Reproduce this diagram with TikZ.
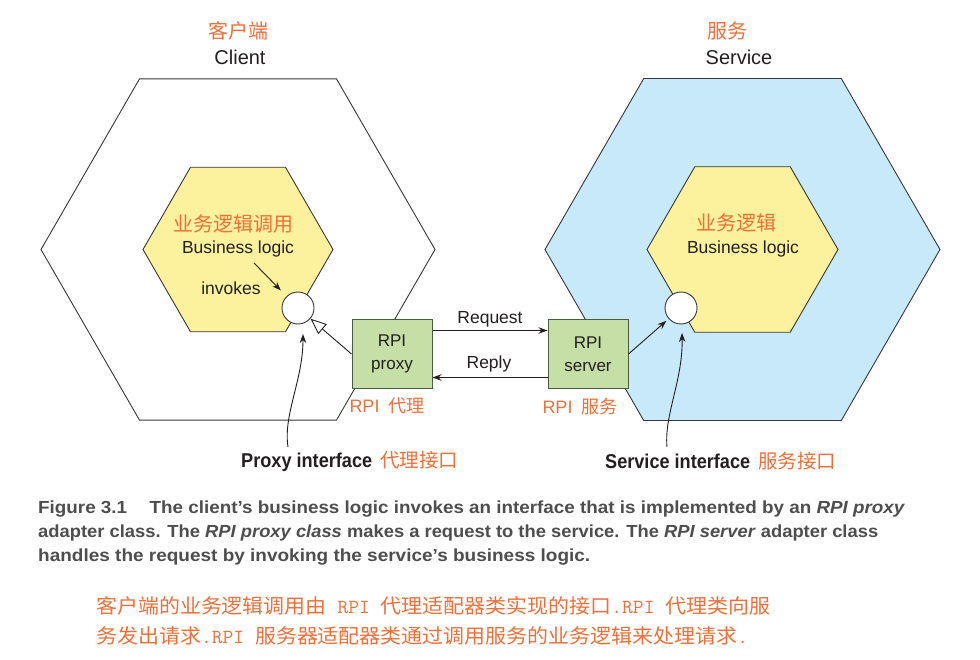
\documentclass[tikz,border=0pt]{standalone}
\usepackage{fontspec}
\usepackage{graphicx}
\setmainfont{Liberation Sans}
\newfontfamily\cjk{Noto Sans CJK SC}
\usetikzlibrary{arrows.meta,calc}
\definecolor{orng}{RGB}{238,112,58}
\definecolor{hexyellow}{RGB}{252,241,156}
\definecolor{hexblue}{RGB}{199,233,249}
\definecolor{boxgreen}{RGB}{197,223,166}
\definecolor{ink}{RGB}{35,31,32}
\definecolor{capgray}{RGB}{78,78,78}
\definecolor{edgegray}{RGB}{55,55,55}
\definecolor{boxedge}{RGB}{75,90,65}
\tikzset{
  outerhex/.style={draw=edgegray, line width=0.9pt},
  innerhex/.style={draw=edgegray, line width=0.9pt, fill=hexyellow},
  port/.style={circle, draw=edgegray, line width=0.9pt, fill=white, minimum size=32pt, inner sep=0pt},
  rpibox/.style={draw=boxedge, line width=1pt, fill=boxgreen, minimum width=80pt, minimum height=68pt, inner sep=0pt, align=center, text=ink, font=\fontsize{17}{23}\selectfont},
  lbl/.style={text=ink, inner sep=0pt, font=\fontsize{17.5}{20}\selectfont},
  title/.style={text=ink, inner sep=0pt, font=\fontsize{20}{24}\selectfont},
  cnlbl/.style={text=orng, inner sep=0pt, font=\cjk\fontsize{19}{22}\selectfont},
  cnsmall/.style={text=orng, inner sep=0pt, font=\fontsize{18}{20}\selectfont},
  arr/.style={draw=ink, line width=0.9pt, -{Stealth[length=9pt,width=6.5pt]}},
  openarr/.style={draw=ink, line width=0.9pt, -{Triangle[open,fill=white,length=16pt,width=13pt]}},
  caption/.style={anchor=west, inner sep=0pt, text=capgray, font=\bfseries\fontsize{17.5}{20}\selectfont},
  cncap/.style={anchor=west, inner sep=0pt, text=orng, font=\fontsize{20}{24}\selectfont},
  bottomlbl/.style={anchor=west, inner sep=0pt, text=ink}
}
\begin{document}
\begin{tikzpicture}[x=1pt,y=-1pt]
\useasboundingbox[fill=white] (0,0) rectangle (980,660);

% centres
\coordinate (cc) at (238,249.5);
\coordinate (sc) at (742.5,249.5);

% outer hexagons
\draw[outerhex] ($(cc)+(197,0)$) -- ++(120:197) -- ++(180:197) -- ++(240:197) -- ++(300:197) -- ++(0:197) -- cycle;
\draw[outerhex, fill=hexblue] ($(sc)+(197.5,0)$) -- ++(120:197.5) -- ++(180:197.5) -- ++(240:197.5) -- ++(300:197.5) -- ++(0:197.5) -- cycle;

% inner hexagons
\draw[innerhex] ($(cc)+(95,0)$) -- ++(120:95) -- ++(180:95) -- ++(240:95) -- ++(300:95) -- ++(0:95) -- cycle;
\draw[innerhex] ($(sc)+(95.5,0)$) -- ++(120:95.5) -- ++(180:95.5) -- ++(240:95.5) -- ++(300:95.5) -- ++(0:95.5) -- cycle;

% titles
\node[cnlbl, font=\cjk\fontsize{20}{24}\selectfont] (cltitlecn) at (238,31) {客户端};
\node[title] (cltitle) at (240,57) {Client};
\node[cnlbl, font=\cjk\fontsize{20}{24}\selectfont] (svtitlecn) at (727,31) {服务};
\node[title] (svtitle) at (739,57) {Service};

% inner texts
\node[cnlbl, font=\cjk\fontsize{20}{24}\selectfont] (clbizcn) at (233,224) {业务逻辑调用};
\node[lbl] (clbiz) at (238,249) {Business logic};
\node[lbl] (invokes) at (231,288) {invokes};
\node[cnlbl, font=\cjk\fontsize{20}{24}\selectfont] (svbizcn) at (736,223) {业务逻辑};
\node[lbl] (svbiz) at (743,249) {Business logic};

% ports
\node[port] (cport) at (298,308) {};
\node[port] (sport) at (681,308) {};

% boxes
\node[rpibox] (proxy) at (392,354) {RPI\\proxy};
\node[rpibox] (server) at (588,354) {RPI\\server};
\node[cnsmall] (proxycn) at (387,406) {RPI\hspace{9pt}{\cjk 代理}};
\node[cnsmall] (servercn) at (580,407) {RPI\hspace{9pt}{\cjk 服务}};

% request / reply
\draw[arr] ($(proxy.north east)+(0,11)$) -- ($(server.north west)+(0,11)$);
\draw[arr] ($(server.south west)+(0,-11)$) -- ($(proxy.south east)+(0,-11)$);
\node[lbl] (reqlbl) at (490,319) {Request};
\node[lbl] (replbl) at (489,364) {Reply};

% invokes arrow
\coordinate (invstart) at (254,263);
\draw[arr, shorten >=8pt] (invstart) -- (cport);

% proxy implements interface
\draw[openarr] (proxy.west) -- (cport);
% server invokes business logic
\draw[arr, shorten >=3pt] (server.east) -- (sport);

% interface pointers
\coordinate (pistart) at (288,447);
\coordinate (sistart) at (667,447);
\draw[arr] (pistart) .. controls (283,415) and (303,380) .. (303,334);
\draw[arr] (sistart) .. controls (664,415) and (683,380) .. (682,333);

% bottom labels
\node[bottomlbl] (pilabel) at (241,461) {\resizebox{131pt}{\height}{\bfseries\fontsize{20}{24}\selectfont Proxy interface}\hspace{8pt}{\cjk\color{orng}\fontsize{19.5}{24}\selectfont 代理接口}};
\node[bottomlbl] (silabel) at (605,461) {\resizebox{145pt}{\height}{\bfseries\fontsize{20}{24}\selectfont Service interface}\hspace{8pt}{\cjk\color{orng}\fontsize{19.5}{24}\selectfont 服务接口}};

% caption
\node[caption] (cap1) at (38,509) {\resizebox{867pt}{\height}{Figure 3.1\hspace{1.2em}The client’s business logic invokes an interface that is implemented by an \textit{RPI proxy}}};
\node[caption] (cap2) at (38,533) {\resizebox{840pt}{\height}{adapter class. The \textit{RPI proxy class} makes a request to the service. The \textit{RPI server} adapter class}};
\node[caption] (cap3) at (38,557) {\resizebox{552pt}{\height}{handles the request by invoking the service’s business logic.}};

% chinese caption
\node[cncap] (cn1) at (96,606) {\resizebox{674pt}{\height}{{\cjk 客户端的业务逻辑调用由}{\ttfamily\ RPI\ }{\cjk 代理适配器类实现的接口}{\ttfamily .RPI\ }{\cjk 代理类向服}}};
\node[cncap] (cn2) at (96,636) {\resizebox{652pt}{\height}{{\cjk 务发出请求}{\ttfamily .RPI\ }{\cjk 服务器适配器类通过调用服务的业务逻辑来处理请求}{\ttfamily .}}};
\end{tikzpicture}
\end{document}
